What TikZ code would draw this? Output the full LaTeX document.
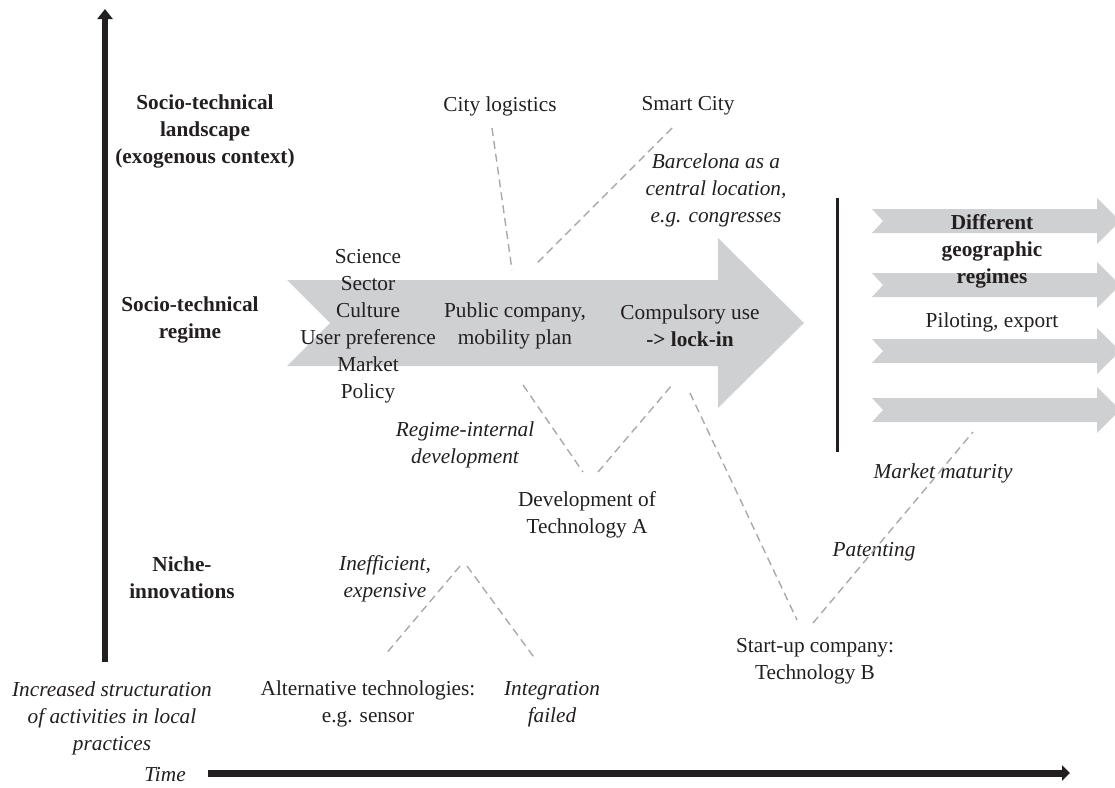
\documentclass[tikz,border=0pt]{standalone}
\usepackage{fontspec}
\setmainfont{Liberation Serif}
\usetikzlibrary{arrows.meta}
\definecolor{arrgray}{RGB}{207,208,210}
\definecolor{dashgray}{RGB}{167,169,172}
\definecolor{ink}{RGB}{35,31,32}
\begin{document}
\begin{tikzpicture}[x=1pt,y=-1pt,
  every node/.style={inner sep=0pt, align=center, text=ink, font=\fontsize{21.3}{27}\selectfont},
  boldtxt/.style={font=\fontsize{21.3}{27}\selectfont\bfseries},
  itatxt/.style={font=\fontsize{21.3}{27}\selectfont\itshape},
  dashline/.style={draw=dashgray, line width=1.4pt, dash pattern=on 8pt off 5pt},
  band/.style={fill=arrgray, draw=none},
  axis/.style={draw=ink, line width=6pt}]
\useasboundingbox (0,0) rectangle (1115,787);

% axes
\coordinate (vbot) at (105,662);
\coordinate (vtop) at (105,9);
\draw[axis, -{Triangle[width=15pt,length=10pt]}] (vbot) -- (vtop);
\coordinate (hleft) at (208,773);
\coordinate (hright) at (1070,773);
\draw[axis, line width=7pt, -{Triangle[width=15pt,length=8pt]}] (hleft) -- (hright);

% main regime arrow
\path[band] (287,280) -- (718,280) -- (718,238) -- (804,323) -- (718,408) -- (718,366) -- (287,366) -- (330,323) -- cycle;

% small arrows (geographic regimes)
\foreach \c in {221,285,351,410} {
  \path[band] (872,\c-12) -- (1097,\c-12) -- (1097,\c-23) -- (1120,\c) -- (1097,\c+23) -- (1097,\c+12) -- (872,\c+12) -- (883,\c) -- cycle;
}
\coordinate (bartop) at (837,198);
\coordinate (barbot) at (837,452);
\draw[draw=ink, line width=3pt] (bartop) -- (barbot);

% level labels
\node[boldtxt] (land) at (205,131) {Socio-technical\\landscape\\(exogenous context)};
\node[boldtxt] (regime) at (190,320) {Socio-technical\\regime};
\node[boldtxt] (niche) at (182,578) {Niche-\\innovations};
\node[itatxt] (struct) at (112,718) {Increased structuration\\of activities in local\\practices};
\node[itatxt] (time) at (165,775) {Time};

% landscape
\node (citylog) at (500,106) {City logistics};
\node (smart) at (688,106) {Smart City};
\node[itatxt] (barca) at (716,190) {Barcelona as a\\central location,\\e.g. congresses};

% regime contents
\node (factors) at (368,326) {Science\\Sector\\Culture\\User preference\\Market\\Policy};
\node (public) at (515,326) {Public company,\\mobility plan};
\node (compul) at (690,326) {Compulsory use\\\textbf{-> lock-in}};
\node[boldtxt] (diff) at (992,251) {Different\\geographic\\regimes};
\node (pilot) at (992,322) {Piloting, export};

% below
\node[itatxt] (rid) at (465,445) {Regime-internal\\development};
\node (devA) at (587,515) {Development of\\Technology A};
\node[itatxt] (market) at (943,473) {Market maturity};
\node[itatxt] (patent) at (874,552) {Patenting};
\node (startup) at (815,661) {Start-up company:\\Technology B};
\node[itatxt] (ineff) at (385,579) {Inefficient,\\expensive};
\node (alt) at (368,704) {Alternative technologies:\\e.g. sensor};
\node[itatxt] (integ) at (552,704) {Integration\\failed};

% dashed connectors
\coordinate (c1a) at (492,128); \coordinate (c1b) at (512,270);
\coordinate (c2a) at (672,128); \coordinate (c2b) at (535,265);
\coordinate (c3a) at (523,385); \coordinate (c3b) at (583,472);
\coordinate (c4a) at (598,472); \coordinate (c4b) at (672,385);
\coordinate (c5a) at (690,393); \coordinate (c5b) at (797,620);
\coordinate (c6a) at (813,623); \coordinate (c6b) at (973,432);
\coordinate (c7a) at (460,566); \coordinate (c7b) at (385,655);
\coordinate (c8a) at (467,566); \coordinate (c8b) at (536,660);
\draw[dashline] (c1a) -- (c1b);
\draw[dashline] (c2a) -- (c2b);
\draw[dashline] (c3a) -- (c3b);
\draw[dashline] (c4a) -- (c4b);
\draw[dashline] (c5a) -- (c5b);
\draw[dashline] (c6a) -- (c6b);
\draw[dashline] (c7a) -- (c7b);
\draw[dashline] (c8a) -- (c8b);
\end{tikzpicture}
\end{document}
